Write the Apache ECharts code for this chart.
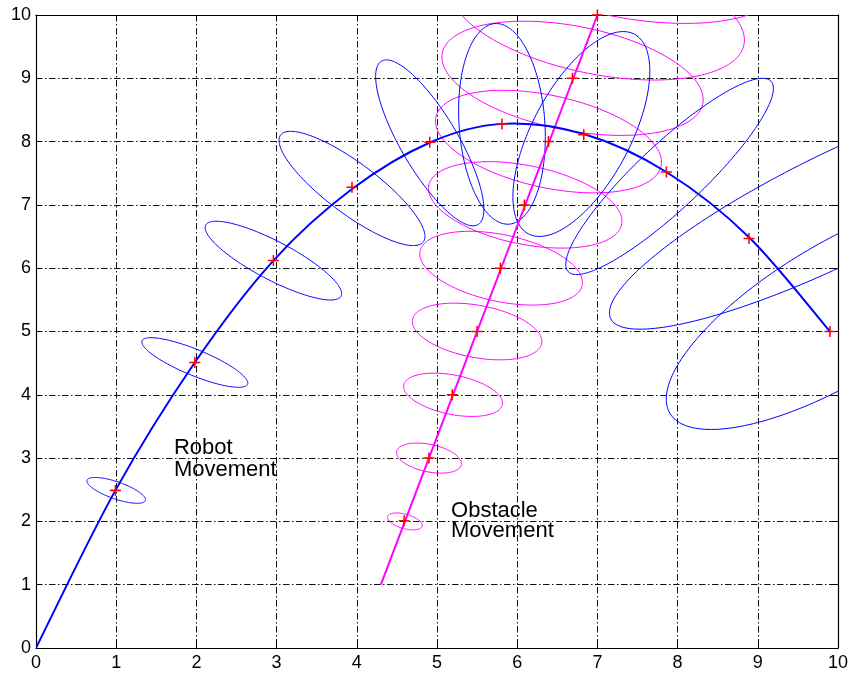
<!DOCTYPE html>
<html><head><meta charset="utf-8">
<script src="https://cdn.jsdelivr.net/npm/echarts@6/dist/echarts.min.js"></script>
<style>html,body{margin:0;padding:0;background:#fff}#c{width:852px;height:675px}</style>
</head><body><div id="c"></div>
<script>
// ---- data ----
const xTickLabels = ['0','1','2','3','4','5','6','7','8','9','10'];
const yTickLabels = ['0','1','2','3','4','5','6','7','8','9','10'];

// robot trajectory (curve) points
const robotPathX = [0, 0.99, 1.98, 2.96, 3.94, 4.92, 5.81, 6.83, 7.86, 8.89, 9.9];
const robotPathY = [0, 2.49, 4.51, 6.12, 7.25, 7.99, 8.28, 8.12, 7.52, 6.49, 5.0];

// robot position estimates (red crosses)
const robotMarkX = [0.99, 1.98, 2.96, 3.94, 4.91, 5.81, 6.83, 7.86, 8.89, 9.9];
const robotMarkY = [2.49, 4.51, 6.12, 7.28, 7.99, 8.28, 8.11, 7.52, 6.47, 5.0];

// obstacle trajectory (straight line) and its crosses
const obstaclePathX = [4.3, 7.0];
const obstaclePathY = [1.0, 10.0];
const obstacleMarkX = [4.59, 4.9, 5.19, 5.5, 5.79, 6.09, 6.39, 6.69, 7.0];
const obstacleMarkY = [2.01, 3.0, 4.0, 5.0, 6.0, 7.0, 8.0, 9.0, 10.0];

// robot uncertainty ellipses: centre, conjugate semi-diameters U and V (data units)
const robotEllCenter = [[1.0,2.49],[1.98,4.51],[2.96,6.12],[3.94,7.26],[4.91,7.98],[5.81,8.28],[6.80,8.12],[7.90,7.45],[10.0,6.96],[10.0,5.30]];
const robotEllU = [[0.365,-0.147],[0.661,-0.324],[0.851,-0.521],[0.910,-0.758],[-0.540,1.311],[-0.071,1.585],[0.661,1.577],[1.264,1.504],[2.834,1.758],[2.095,1.594]];
const robotEllV = [[0,0.142],[0,0.221],[0,0.340],[0,0.490],[0.405,0],[0.536,0],[-0.540,0.363],[-0.278,0.376],[-0.302,0.780],[-0.443,0.934]];

// obstacle uncertainty ellipses
const obstEllCenter = [[4.6,2.0],[4.9,3.0],[5.2,4.0],[5.5,5.0],[5.8,6.0],[6.1,7.0],[6.39,8.0],[6.69,9.0],[7.0,10.0],[7.3,11.0]];
const obstEllU = [[0.217,-0.063],[0.405,-0.087],[0.616,-0.131],[0.807,-0.158],[1.014,-0.226],[1.206,-0.258],[1.409,-0.325],[1.629,-0.336],[1.833,-0.395],[2.033,-0.442]];
const obstEllV = [[0,0.118],[0,0.221],[0,0.316],[0,0.419],[0,0.537],[0,0.632],[0,0.742],[0,0.837],[0,0.948],[0,1.043]];

// text annotations
const annotations = [
  {x: 1.72, y: 3.33, text: 'Robot\nMovement', lh: 22},
  {x: 5.175, y: 2.33, text: 'Obstacle\nMovement', lh: 20}
];

// ---- build ----
const zip = (a, b) => a.map((v, i) => [v, b[i]]);
const ellData = (c, u, v) => c.map((p, i) => [p[0], p[1], u[i][0], u[i][1], v[i][0], v[i][1]]);

function clipOf(params) {
  const cs = params.coordSys;
  return {type: 'rect', shape: {x: cs.x, y: cs.y, width: cs.width, height: cs.height}};
}

function ellipseRenderer(color) {
  return function (params, api) {
    const cx = api.value(0), cy = api.value(1);
    const ux = api.value(2), uy = api.value(3), vx = api.value(4), vy = api.value(5);
    const pts = [];
    const N = 200;
    for (let i = 0; i <= N; i++) {
      const t = 2 * Math.PI * i / N;
      pts.push(api.coord([cx + ux * Math.cos(t) + vx * Math.sin(t), cy + uy * Math.cos(t) + vy * Math.sin(t)]));
    }
    return {type: 'polyline', shape: {points: pts}, style: {stroke: color, fill: null, lineWidth: 1}, clipPath: clipOf(params)};
  };
}

// smooth (Catmull-Rom) curve through the path points, drawn once
function curveRenderer(xs, ys, color, width) {
  return function (params, api) {
    if (params.dataIndex !== 0) return null;
    const P = xs.map((x, i) => api.coord([x, ys[i]]));
    const n = P.length;
    const children = [];
    for (let i = 0; i < n - 1; i++) {
      const p0 = P[Math.max(i - 1, 0)], p1 = P[i], p2 = P[i + 1], p3 = P[Math.min(i + 2, n - 1)];
      children.push({
        type: 'bezierCurve',
        shape: {x1: p1[0], y1: p1[1], x2: p2[0], y2: p2[1],
                cpx1: p1[0] + (p2[0] - p0[0]) / 6, cpy1: p1[1] + (p2[1] - p0[1]) / 6,
                cpx2: p2[0] - (p3[0] - p1[0]) / 6, cpy2: p2[1] - (p3[1] - p1[1]) / 6},
        style: {stroke: color, fill: null, lineWidth: width}
      });
    }
    return {type: 'group', children: children, clipPath: clipOf(params)};
  };
}

const FONT = '"Liberation Sans", Arial, Helvetica, sans-serif';
const gridLine = {show: true, lineStyle: {color: '#111', width: 1, type: [6.5, 2.5, 1.5, 2.5]}};
const plus = 'path://M4.3,0H5.7V4.3H10V5.7H5.7V10H4.3V5.7H0V4.3H4.3Z';

const chart = echarts.init(document.getElementById('c'), null, {renderer: 'canvas'});
chart.setOption({
  animation: false,
  backgroundColor: '#fff',
  grid: {left: 36, top: 15, width: 802, height: 633, containLabel: false},
  xAxis: [
    {type: 'value', min: 0, max: 10, interval: 1, position: 'bottom',
     axisLine: {show: true, onZero: false, lineStyle: {color: '#000', width: 1.2}},
     axisTick: {show: true, inside: true, length: 6, lineStyle: {color: '#000'}},
     axisLabel: {show: true, margin: 6, color: '#000', fontSize: 18, fontFamily: FONT,
                 formatter: (v) => xTickLabels[Math.round(v)]},
     splitLine: gridLine},
    {type: 'value', min: 0, max: 10, interval: 1, position: 'top',
     axisLine: {show: true, onZero: false, lineStyle: {color: '#000', width: 1.2}},
     axisTick: {show: true, inside: true, length: 6, lineStyle: {color: '#000'}},
     axisLabel: {show: false}, splitLine: {show: false}}
  ],
  yAxis: [
    {type: 'value', min: 0, max: 10, interval: 1, position: 'left',
     axisLine: {show: true, onZero: false, lineStyle: {color: '#000', width: 1.2}},
     axisTick: {show: true, inside: true, length: 6, lineStyle: {color: '#000'}},
     axisLabel: {show: true, margin: 5, color: '#000', fontSize: 18, fontFamily: FONT,
                 formatter: (v) => yTickLabels[Math.round(v)]},
     splitLine: gridLine},
    {type: 'value', min: 0, max: 10, interval: 1, position: 'right',
     axisLine: {show: true, onZero: false, lineStyle: {color: '#000', width: 1.2}},
     axisTick: {show: true, inside: true, length: 6, lineStyle: {color: '#000'}},
     axisLabel: {show: false}, splitLine: {show: false}}
  ],
  series: [
    {type: 'custom', name: 'obstacle ellipses', clip: true, renderItem: ellipseRenderer('#ff00ff'),
     encode: {x: 0, y: 1}, data: ellData(obstEllCenter, obstEllU, obstEllV), z: 2, silent: true},
    {type: 'custom', name: 'robot ellipses', clip: true, renderItem: ellipseRenderer('#0000ff'),
     encode: {x: 0, y: 1}, data: ellData(robotEllCenter, robotEllU, robotEllV), z: 3, silent: true},
    {type: 'line', name: 'Obstacle Movement', data: zip(obstaclePathX, obstaclePathY), showSymbol: false,
     symbol: 'none', lineStyle: {color: '#ff00ff', width: 2}, z: 4, clip: true},
    {type: 'custom', name: 'Robot Movement', clip: true, silent: true, z: 5,
     renderItem: curveRenderer(robotPathX, robotPathY, '#0000ff', 2),
     encode: {x: 0, y: 1}, data: zip(robotPathX, robotPathY)},
    {type: 'scatter', name: 'robot marks', data: zip(robotMarkX, robotMarkY), symbol: plus, symbolSize: 11,
     itemStyle: {color: '#ff0000', opacity: 1}, z: 6, clip: false},
    {type: 'scatter', name: 'obstacle marks', data: zip(obstacleMarkX, obstacleMarkY), symbol: plus, symbolSize: 11,
     itemStyle: {color: '#ff0000', opacity: 1}, z: 6, clip: false},
    {type: 'scatter', name: 'labels', symbolSize: 0, silent: true, z: 7, itemStyle: {opacity: 1},
     data: annotations.map(a => ({value: [a.x, a.y],
       label: {show: true, formatter: a.text, position: [0, 0], align: 'left', verticalAlign: 'top',
               color: '#000', opacity: 1, textBorderWidth: 0, textBorderColor: 'transparent',
               fontSize: 22, lineHeight: a.lh, fontFamily: FONT}}))}
  ]
});
</script>
</body></html>
